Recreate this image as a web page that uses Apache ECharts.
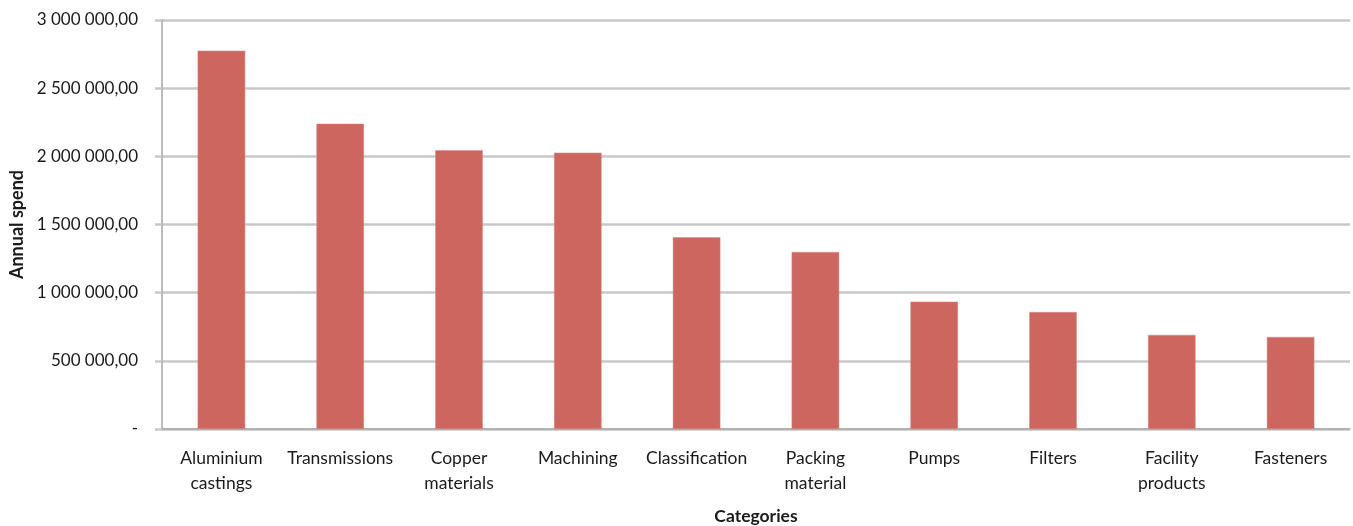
<!DOCTYPE html>
<html>
<head>
<meta charset="utf-8">
<script src="https://cdn.jsdelivr.net/npm/echarts@6/dist/echarts.min.js"></script>
<style>
  html, body { margin: 0; padding: 0; background: #ffffff; }
  #chart { width: 1353px; height: 526px; }
</style>
</head>
<body>
<div id="chart"></div>
<script>
// Spend categories (two-line labels where the text wraps)
const categories = [
  'Aluminium\ncastings', 'Transmissions', 'Copper\nmaterials', 'Machining',
  'Classification', 'Packing\nmaterial', 'Pumps', 'Filters',
  'Facility\nproducts', 'Fasteners'
];

// Annual spend per category
const annualSpend = [
  2775000, 2239000, 2044000, 2027000, 1406000,
  1298000, 934000, 858000, 690000, 675000
];

// Value axis range
const yMin = 0;
const yMax = 3000000;
const yStep = 500000;

const fontFamily = 'Lato, "Open Sans", sans-serif';
const textColor = '#1a1a1a';

function formatSpend(v) {
  if (v === 0) return '-';
  const whole = Math.round(v).toString().replace(/\B(?=(\d{3})+(?!\d))/g, ' ');
  return whole + ',00';
}

const chart = echarts.init(document.getElementById('chart'), null, { renderer: 'canvas' });

chart.setOption({
  animation: false,
  backgroundColor: '#ffffff',
  grid: { left: 162, right: 3, top: 20, bottom: 97, containLabel: false, outerBoundsMode: 'none' },
  xAxis: {
    type: 'category',
    data: categories,
    name: 'Categories',
    nameLocation: 'middle',
    nameGap: 78,
    nameTextStyle: { fontFamily, fontSize: 17.5, fontWeight: 'bold', color: textColor },
    axisLine: { show: true, lineStyle: { color: '#a6a6a6', width: 1.5 } },
    axisTick: { show: false },
    axisLabel: {
      interval: 0,
      margin: 17,
      fontFamily,
      fontSize: 17.5,
      lineHeight: 25,
      color: textColor
    },
    splitLine: { show: false }
  },
  yAxis: {
    type: 'value',
    min: yMin,
    max: yMax,
    interval: yStep,
    name: 'Annual spend',
    nameLocation: 'middle',
    nameGap: 135,
    nameRotate: 90,
    nameTextStyle: { fontFamily, fontSize: 18, fontWeight: 'bold', color: textColor },
    axisLine: { show: true, lineStyle: { color: '#a6a6a6', width: 1.5 } },
    axisTick: { show: true, inside: false, length: 7, lineStyle: { color: '#c8c8c8', width: 2.5 } },
    axisLabel: {
      margin: 24,
      fontFamily,
      fontSize: 17,
      color: textColor,
      formatter: formatSpend
    },
    splitLine: { show: true, lineStyle: { color: '#c8c8c8', width: 2.5 } }
  },
  series: [{
    type: 'bar',
    data: annualSpend,
    barCategoryGap: '60%',
    itemStyle: { color: '#cc665f', borderColor: '#d98a84', borderWidth: 0.5 }
  }]
});
</script>
</body>
</html>
